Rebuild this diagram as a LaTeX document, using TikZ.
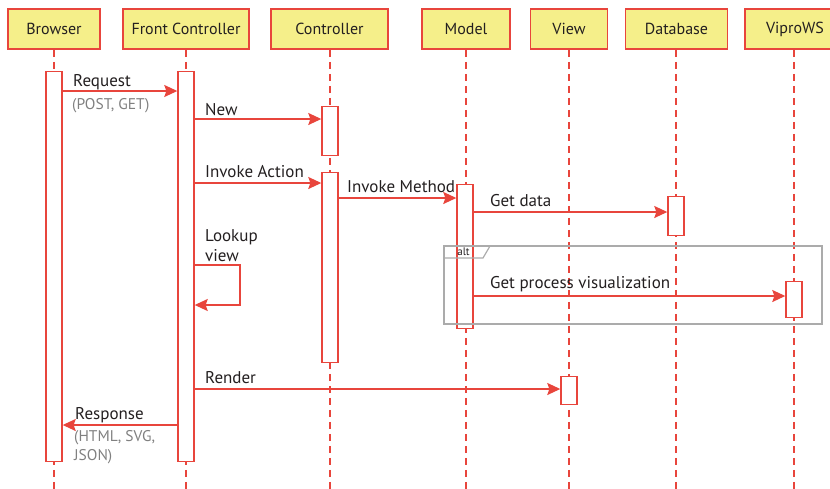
\documentclass[tikz,border=0pt]{standalone}
\usepackage{fontspec}
\setmainfont{PT Sans}
\usetikzlibrary{arrows.meta}
\definecolor{rd}{HTML}{E8453C}
\definecolor{yl}{HTML}{F5EF8A}
\definecolor{gt}{HTML}{808080}
\definecolor{gf}{HTML}{ABABAB}
\definecolor{tx}{HTML}{231F20}
\begin{document}
\begin{tikzpicture}[x=1pt,y=-1pt,
  head/.style={draw=rd, line width=1.6pt, fill=yl, minimum height=40pt, inner sep=0pt, font=\fontsize{16}{18}\selectfont, text=tx},
  life/.style={draw=rd, line width=1.3pt, dash pattern=on 7pt off 5pt},
  act/.style={draw=rd, line width=1.4pt, fill=white, minimum width=16pt, inner sep=0pt, anchor=north},
  msg/.style={draw=rd, line width=1.4pt, -{Stealth[length=13pt,width=12pt,inset=2pt]}},
  lbl/.style={font=\fontsize{17}{19}\selectfont, text=tx, anchor=base west, inner sep=0pt},
  sub/.style={font=\fontsize{15.5}{17}\selectfont, text=gt, anchor=base west, inner sep=0pt},
  frame/.style={draw=gf, line width=1.2pt}
]
\useasboundingbox (0,0) rectangle (830,488);
\begin{scope}
\clip (0,0) rectangle (830,488);
% headers
\node[head, minimum width=92pt]  (browser) at (54,29)   {Browser};
\node[head, minimum width=126pt] (fc)      at (186,29)  {Front Controller};
\node[head, minimum width=117pt] (ctrl)    at (329.5,29){Controller};
\node[head, minimum width=88pt]  (model)   at (466,29)  {Model};
\node[head, minimum width=77pt]  (view)    at (569,29)  {View};
\node[head, minimum width=102pt] (db)      at (676.5,29){Database};
\node[head, minimum width=100pt] (vws)     at (795,29)  {ViproWS};
% lifelines
\coordinate (bE) at (54,490);
\coordinate (fcE) at (186,490);
\coordinate (cE) at (330,490);
\coordinate (mE) at (466,490);
\coordinate (vE) at (569,490);
\coordinate (dE) at (676,490);
\coordinate (wE) at (794,490);
\draw[life] (browser.south -| bE) -- (bE);
\draw[life] (fc.south -| fcE) -- (fcE);
\draw[life] (ctrl.south -| cE) -- (cE);
\draw[life] (model.south -| mE) -- (mE);
\draw[life] (view.south -| vE) -- (vE);
\draw[life] (db.south -| dE) -- (dE);
\draw[life] (vws.south -| wE) -- (wE);
% activations
\node[act, minimum height=390pt] (bA)  at (54,71)  {};
\node[act, minimum height=390pt] (fcA) at (186,71) {};
\node[act, minimum height=49pt]  (cA1) at (330,106) {};
\node[act, minimum height=190pt] (cA2) at (330,172) {};
\node[act, minimum height=144pt] (mA)  at (465,184) {};
\node[act, minimum height=39pt]  (dA)  at (676,196) {};
\node[act, minimum height=36pt]  (wA)  at (794,281) {};
\node[act, minimum height=28pt]  (vA)  at (569,376) {};
% messages
\draw[msg] (bA.east |- 0,91) -- (fcA.west |- 0,91);
\node[lbl] (l1) at (73,86) {Request};
\node[sub] (l1b) at (72,109) {(POST, GET)};
\draw[msg] (fcA.east |- 0,119) -- (cA1.west |- 0,119);
\node[lbl] (l2) at (205,115) {New};
\draw[msg] (fcA.east |- 0,183) -- (cA2.west |- 0,183);
\node[lbl] (l3) at (205,177) {Invoke Action};
\draw[msg] (cA2.east |- 0,198) -- (mA.west |- 0,198);
\node[lbl] (l4) at (347,192) {Invoke Method};
\draw[msg] (mA.east |- 0,212) -- (dA.west |- 0,212);
\node[lbl] (l5) at (490,206) {Get data};
% self loop
\coordinate (lp) at (240,265);
\draw[msg] (fcA.east |- lp) -- (lp) -- (240,305) -- (fcA.east |- 0,305);
\node[lbl] (l6) at (205,241) {Lookup};
\node[lbl] (l6b) at (205,261) {view};
% alt frame
\draw[frame] (444,246) rectangle (822,324);
\draw[frame] (444,258) -- (483,258) -- (490,246);
\node[font=\fontsize{11}{12}\selectfont, text=tx, inner sep=0pt] (alt) at (463.5,252) {alt};
\draw[msg] (mA.east |- 0,296) -- (wA.west |- 0,296);
\node[lbl] (l7) at (490,288) {Get process visualization};
\draw[msg] (fcA.east |- 0,389) -- (vA.west |- 0,389);
\node[lbl] (l8) at (205,383) {Render};
\draw[msg] (fcA.west |- 0,425) -- (bA.east |- 0,425);
\node[lbl] (l9) at (75,419) {Response};
\node[sub] (l9b) at (74,441) {(HTML, SVG,};
\node[sub] (l9c) at (74,460) {JSON)};
\end{scope}
\end{tikzpicture}
\end{document}
